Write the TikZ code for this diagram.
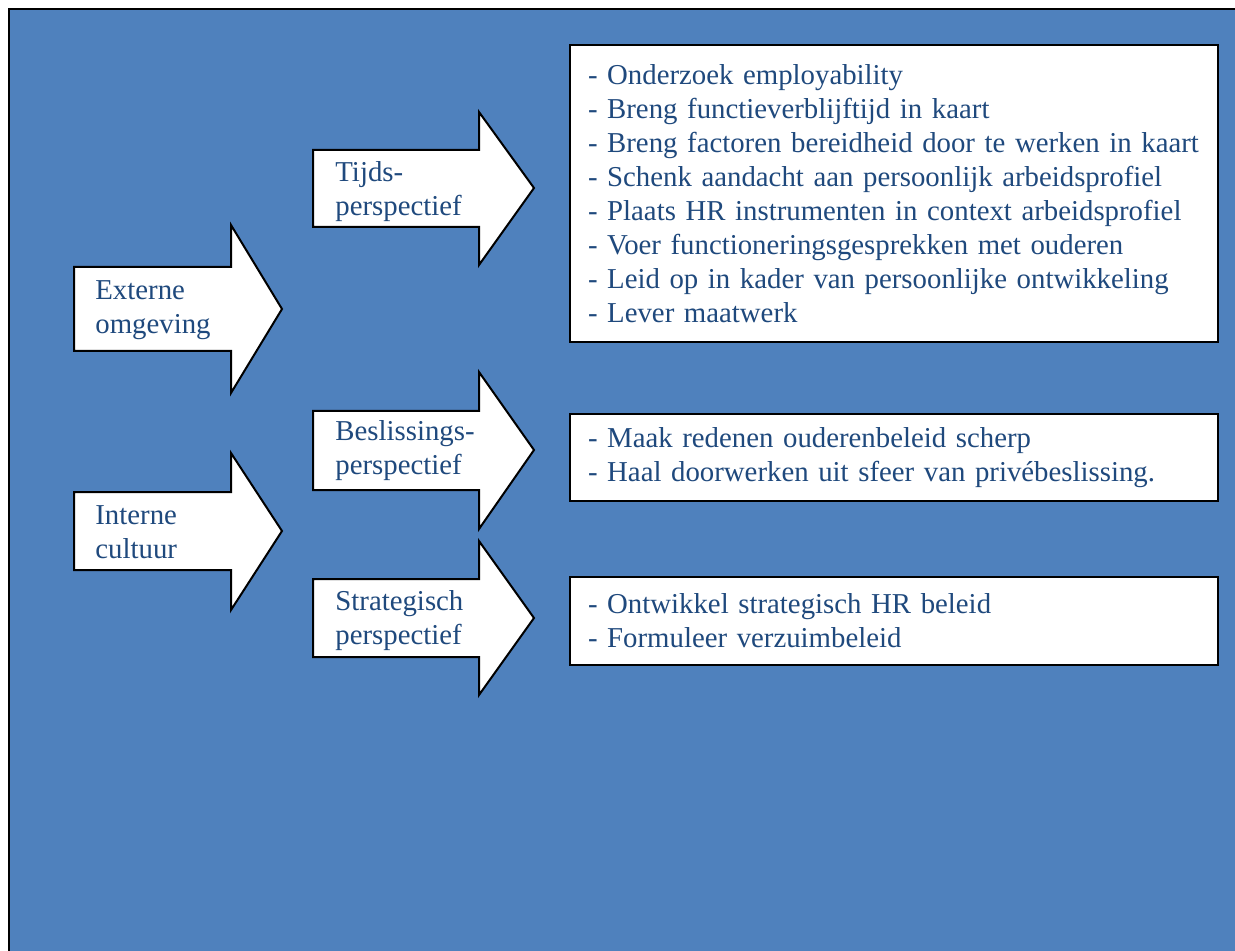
\documentclass[tikz,border=0pt]{standalone}
\usepackage{fontspec}
\setmainfont{Liberation Serif}
\usetikzlibrary{positioning}
\definecolor{framebg}{RGB}{79,129,189}
\definecolor{textblue}{RGB}{31,73,125}

\begin{document}
\begin{tikzpicture}[x=0.5pt, y=-0.5pt,
    every node/.style={font=\fontsize{14.4}{17}\selectfont, text=textblue},
    arrowshape/.style={draw=black, fill=white, line width=1pt, line join=miter},
    arrowtext/.style={anchor=west, align=left, inner sep=0pt},
    listbox/.style={rectangle, draw=black, fill=white, line width=1pt, text width=306pt, inner xsep=9pt, inner ysep=0pt, align=left}]

    \useasboundingbox (0,0) rectangle (1235,951);
    \fill[white] (0,0) rectangle (1235,951);
    \draw[fill=framebg, line width=1pt] (8.5,9) rectangle (1260,980);

    % left arrows
    \draw[arrowshape] (74,267) -- (231,267) -- (231,225) -- (282,309) -- (231,393) -- (231,351) -- (74,351) -- cycle;
    \draw[arrowshape] (74,492) -- (231,492) -- (231,453) -- (282,531) -- (231,610) -- (231,570) -- (74,570) -- cycle;

    % perspective arrows
    \draw[arrowshape] (313,150) -- (479,150) -- (479,112) -- (534,188) -- (479,265) -- (479,227) -- (313,227) -- cycle;
    \draw[arrowshape] (313,411) -- (479,411) -- (479,372) -- (534,450) -- (479,529) -- (479,490) -- (313,490) -- cycle;
    \draw[arrowshape] (313,579) -- (479,579) -- (479,541) -- (534,618) -- (479,695) -- (479,657) -- (313,657) -- cycle;

    \node[arrowtext] (externe) at (95,310) {Externe\\omgeving};
    \node[arrowtext] (interne) at (95,532) {Interne\\cultuur};
    \node[arrowtext] (tijds) at (335,192) {Tijds-\\perspectief};
    \node[arrowtext] (beslissings) at (335,451) {Beslissings-\\perspectief};
    \node[arrowtext] (strategisch) at (335,621) {Strategisch\\perspectief};

    % action lists
    \node[listbox, minimum height=148.5pt] (tijdslist) at (894,193.5) {- Onderzoek employability\\
        - Breng functieverblijftijd in kaart\\
        - Breng factoren bereidheid door te werken in kaart\\
        - Schenk aandacht aan persoonlijk arbeidsprofiel\\
        - Plaats HR instrumenten in context arbeidsprofiel\\
        - Voer functioneringsgesprekken met ouderen\\
        - Leid op in kader van persoonlijke ontwikkeling\\
        - Lever maatwerk};
    \node[listbox, minimum height=43.5pt, below=35pt of tijdslist] (beslissingslist) {- Maak redenen ouderenbeleid scherp\\
        - Haal doorwerken uit sfeer van privébeslissing.};
    \node[listbox, minimum height=44pt, below=37pt of beslissingslist] (strategischlist) {- Ontwikkel strategisch HR beleid\\
        - Formuleer verzuimbeleid};
\end{tikzpicture}
\end{document}
